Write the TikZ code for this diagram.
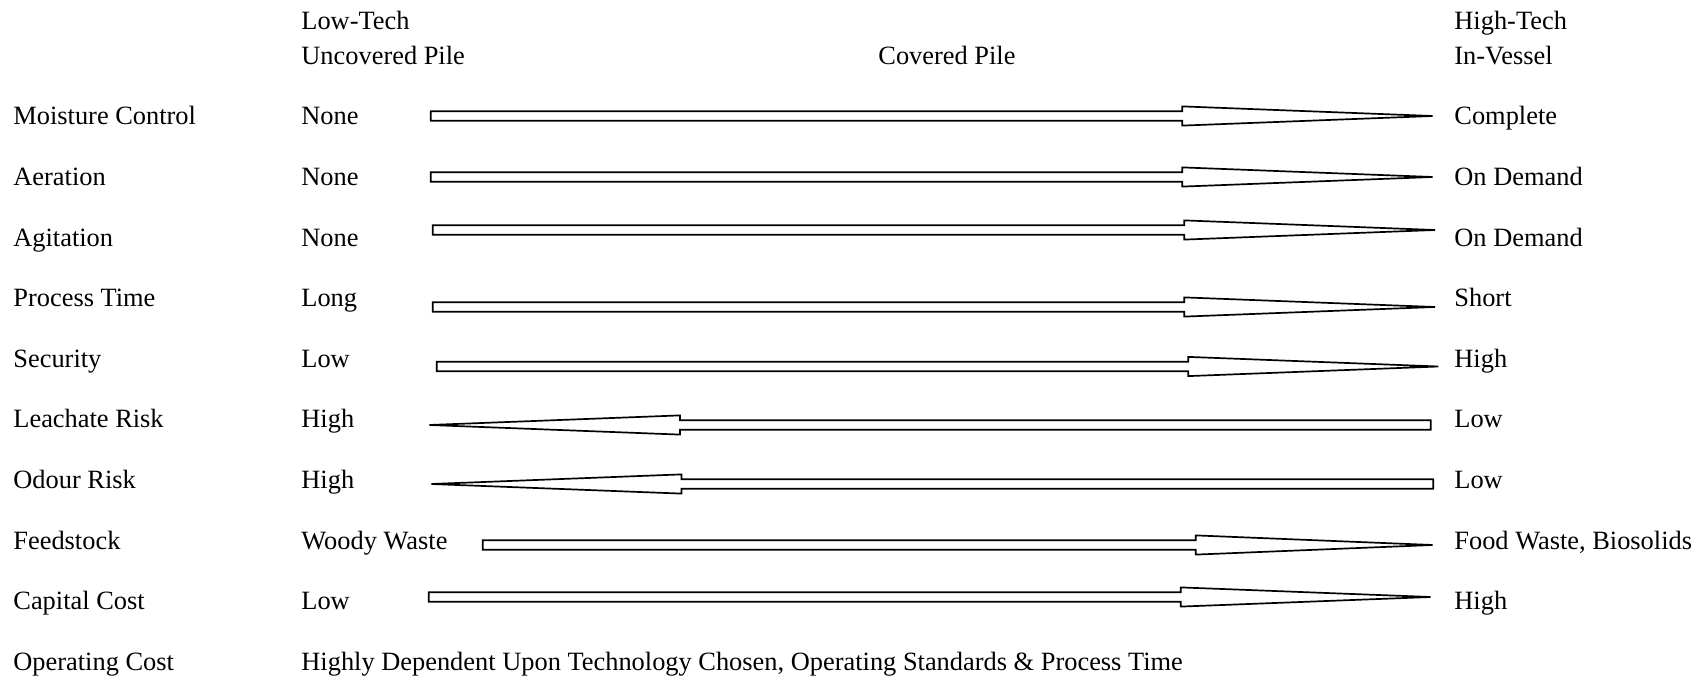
\documentclass[tikz,border=0pt]{standalone}
\usepackage{fontspec}
\setmainfont{Liberation Serif}

% hollow arrow: row y, tail x, head base x, tip x
\newcommand{\fatarrow}[4]{%
  \draw[bararrow] (#2,#1-4.7) -- (#3,#1-4.7) -- (#3,#1-9.6) -- (#4,#1)
    -- (#3,#1+9.6) -- (#3,#1+4.7) -- (#2,#1+4.7) -- cycle;}

\begin{document}
\begin{tikzpicture}[x=0.5pt, y=-0.5pt, font=\fontsize{13.2}{16}\selectfont,
  txt/.style={anchor=base west, inner sep=0pt},
  bararrow/.style={draw, line width=0.85pt, fill=white, line join=miter}]
  \useasboundingbox (0,0) rectangle (1705,679);

  % column heads
  \node[txt] (lowtech) at (301,29.5) {Low-Tech};
  \node[txt] (uncovered) at (301,64.5) {Uncovered Pile};
  \node[txt] (covered) at (878,64.5) {Covered Pile};
  \node[txt] (hightech) at (1454,29.5) {High-Tech};
  \node[txt] (invessel) at (1454,64.5) {In-Vessel};

  % row labels
  \node[txt] (moisture) at (13,125) {Moisture Control};
  \node[txt] (aeration) at (13,185.6) {Aeration};
  \node[txt] (agitation) at (13,246.2) {Agitation};
  \node[txt] (ptime) at (13,306.8) {Process Time};
  \node[txt] (security) at (13,367.4) {Security};
  \node[txt] (leachate) at (13,428) {Leachate Risk};
  \node[txt] (odour) at (13,488.6) {Odour Risk};
  \node[txt] (feed) at (13,549.2) {Feedstock};
  \node[txt] (capital) at (13,609.8) {Capital Cost};
  \node[txt] (opcost) at (13,670.4) {Operating Cost};

  % low-tech end
  \node[txt] (moistlo) at (301,125) {None};
  \node[txt] (aerlo) at (301,185.6) {None};
  \node[txt] (agilo) at (301,246.2) {None};
  \node[txt] (ptimelo) at (301,306.8) {Long};
  \node[txt] (seclo) at (301,367.4) {Low};
  \node[txt] (leachlo) at (301,428) {High};
  \node[txt] (odourlo) at (301,488.6) {High};
  \node[txt] (feedlo) at (301,549.2) {Woody Waste};
  \node[txt] (caplo) at (301,609.8) {Low};
  \node[txt] (opnote) at (301,670.4) {Highly Dependent Upon Technology Chosen, Operating Standards \& Process Time};

  % high-tech end
  \node[txt] (moisthi) at (1454,125) {Complete};
  \node[txt] (aerhi) at (1454,185.6) {On Demand};
  \node[txt] (agihi) at (1454,246.2) {On Demand};
  \node[txt] (ptimehi) at (1454,306.8) {Short};
  \node[txt] (sechi) at (1454,367.4) {High};
  \node[txt] (leachhi) at (1454,428) {Low};
  \node[txt] (odourhi) at (1454,488.6) {Low};
  \node[txt] (feedhi) at (1454,549.2) {Food Waste, Biosolids};
  \node[txt] (caphi) at (1454,609.8) {High};

  % trend arrows
  \fatarrow{116}{430.7}{1182.3}{1432.7}
  \fatarrow{177}{430.7}{1182.3}{1432.7}
  \fatarrow{230}{432.7}{1184.3}{1435}
  \fatarrow{307}{432.7}{1184.3}{1435}
  \fatarrow{366.5}{436.7}{1188.3}{1438.3}
  \fatarrow{425}{1430.7}{680}{429.3}
  \fatarrow{484}{1433.3}{681.5}{431.3}
  \fatarrow{545}{482.7}{1195.7}{1432.7}
  \fatarrow{597}{428.7}{1180.7}{1430.7}
\end{tikzpicture}
\end{document}
